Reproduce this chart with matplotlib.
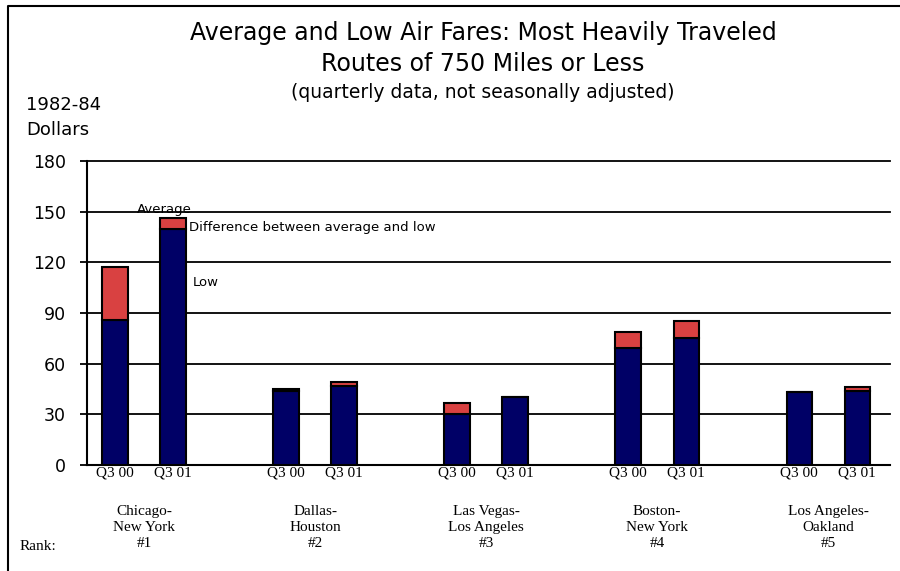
import numpy as np
import matplotlib
matplotlib.use('Agg')
import matplotlib.pyplot as plt
from matplotlib.lines import Line2D

routes = ['Chicago-\nNew York', 'Dallas-\nHouston', 'Las Vegas-\nLos Angeles',
          'Boston-\nNew York', 'Los Angeles-\nOakland']
ranks = ['#1', '#2', '#3', '#4', '#5']
quarters = ['Q3 00', 'Q3 01']
low_00 = [86, 44, 30, 69, 43]
avg_00 = [117, 45, 37, 79, 43]
low_01 = [140, 47, 40, 75, 44]
avg_01 = [146, 49, 40, 85, 46]

navy = '#000066'
red = '#d94141'

fig = plt.figure(figsize=(9, 5.71), dpi=100)
ax = fig.add_axes([87 / 900, 1 - 465 / 571, (890 - 87) / 900, (465 - 161) / 571])

grp = np.arange(len(routes)) * 2.975
x00 = grp
x01 = grp + 1.01
w = 0.44

for xs, lo, av in [(x00, low_00, avg_00), (x01, low_01, avg_01)]:
    lo = np.array(lo)
    av = np.array(av)
    ax.bar(xs, lo, width=w, color=navy, edgecolor='black', linewidth=1.5, zorder=3)
    ax.bar(xs, av - lo, bottom=lo, width=w, color=red, edgecolor='black',
           linewidth=1.5, zorder=3)

ax.set_xlim(-0.487, 13.48)
ax.set_ylim(0, 180)
ax.set_yticks(range(0, 181, 30))
ax.yaxis.grid(True, color='black', linewidth=1.3, zorder=0)
for gl in ax.get_ygridlines():
    gl.set_clip_on(False)
ax.set_axisbelow(True)
for s in ['top', 'right']:
    ax.spines[s].set_visible(False)
ax.spines['left'].set_linewidth(1.5)
ax.spines['bottom'].set_linewidth(1.5)
ax.tick_params(axis='y', length=5, width=1.3, labelsize=12.5, pad=10)
ax.tick_params(axis='x', length=0, pad=1)

xt = np.concatenate([x00, x01])
ax.set_xticks(xt)
ax.set_xticklabels([quarters[0]] * 5 + [quarters[1]] * 5,
                   family='Liberation Serif', fontsize=11)

for g, r, k in zip(grp, routes, ranks):
    ax.text(g + 0.505, -0.13, r + '\n' + k, transform=ax.get_xaxis_transform(),
            ha='center', va='top', family='Liberation Serif', fontsize=11,
            linespacing=1.3)
fig.text(20 / 900, 1 - 546 / 571, 'Rank:', family='Liberation Serif',
         fontsize=11, va='center')

fig.text(483 / 900, 1 - 33 / 571, 'Average and Low Air Fares: Most Heavily Traveled',
         ha='center', va='center', fontsize=17)
fig.text(483 / 900, 1 - 64 / 571, 'Routes of 750 Miles or Less',
         ha='center', va='center', fontsize=17)
fig.text(483 / 900, 1 - 92 / 571, '(quarterly data, not seasonally adjusted)',
         ha='center', va='center', fontsize=13.5)
fig.text(26 / 900, 1 - 105 / 571, '1982-84', va='center', fontsize=13)
fig.text(26 / 900, 1 - 130 / 571, 'Dollars', va='center', fontsize=13)

fig.text(137 / 900, 1 - 209 / 571, 'Average', va='center', fontsize=9.5)
fig.text(189 / 900, 1 - 227 / 571, 'Difference between average and low',
         va='center', fontsize=9.5)
fig.text(193 / 900, 1 - 283 / 571, 'Low', va='center', fontsize=9.5)

fig.add_artist(Line2D([8 / 900, 8 / 900, 1], [0, 1 - 6 / 571, 1 - 6 / 571],
                      color='black', linewidth=1.5, transform=fig.transFigure))

fig.savefig('out.png', dpi=100)
